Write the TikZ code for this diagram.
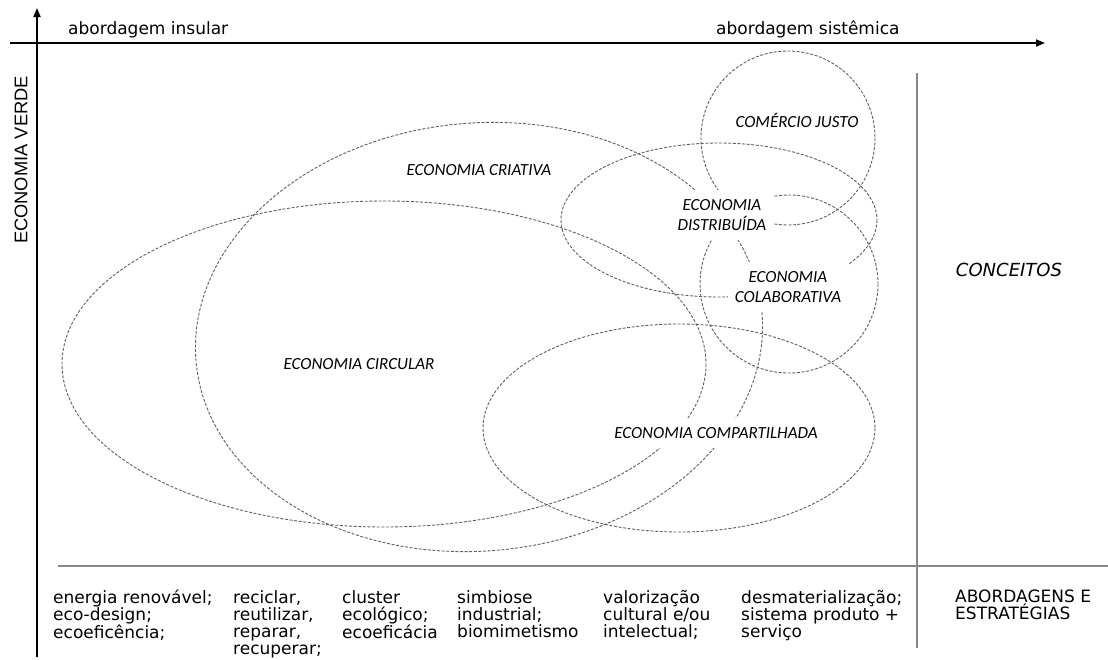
\documentclass[tikz,border=0pt]{standalone}
\usepackage{fontspec}
\setmainfont{DejaVu Sans}
\newfontfamily\carl{Carlito}
\newfontfamily\arialf{Liberation Sans}
\usetikzlibrary{arrows.meta}
\definecolor{venngray}{RGB}{95,95,95}
\definecolor{linegray}{RGB}{135,135,135}
\begin{document}
\begin{tikzpicture}[x=1pt,y=-1pt,
  venn/.style={draw=venngray, line width=0.9pt, dash pattern=on 3pt off 1.6pt},
  axisline/.style={line width=1.8pt, -{Triangle[length=9pt,width=7pt]}},
  thinline/.style={draw=linegray, line width=1.2pt},
  lab/.style={font={\carl\itshape\fontsize{17}{20}\selectfont}, align=center, fill=white, inner xsep=7pt, inner ysep=9pt},
  strat/.style={font={\fontsize{17}{17}\selectfont}, align=left, anchor=north west, inner sep=0pt},
  toplab/.style={font={\fontsize{17}{20}\selectfont}, anchor=base west, inner sep=0pt}]
\useasboundingbox (0,0) rectangle (1108,659);
% axes
\coordinate (yb) at (37,657);
\coordinate (yt) at (37,8);
\coordinate (xl) at (10,43);
\coordinate (xr) at (1045,43);
\draw[axisline] (yb) -- (yt);
\draw[axisline] (xl) -- (xr);
% separator lines
\coordinate (hl) at (58,566);
\coordinate (hr) at (1108,566);
\coordinate (vt) at (917,73);
\coordinate (vb) at (917,648);
\draw[thinline] (hl) -- (hr);
\draw[thinline] (vt) -- (vb);
% ellipses
\draw[venn] (384,364) ellipse [x radius=322, y radius=163];
\draw[venn, rotate around={5:(479,337)}] (479,337) ellipse [x radius=284, y radius=214];
\draw[venn] (719,220) ellipse [x radius=158, y radius=77];
\draw[venn] (788,138) circle [radius=87];
\draw[venn] (789,284) circle [radius=89];
\draw[venn] (679,428) ellipse [x radius=196, y radius=104];
% concept labels
\node[lab] (cj) at (797,120) {COMÉRCIO JUSTO};
\node[lab] (ed) at (722,215) {ECONOMIA\\DISTRIBUÍDA};
\node[lab] (ecol) at (788,287) {ECONOMIA\\COLABORATIVA};
\node[lab] (ecr) at (479,170) {ECONOMIA CRIATIVA};
\node[lab] (eci) at (359,364) {ECONOMIA CIRCULAR};
\node[lab] (ecomp) at (716,433) {ECONOMIA COMPARTILHADA};
\node[font={\itshape\fontsize{18}{20}\selectfont}] (conc) at (1009,270) {CONCEITOS};
% axis labels
\node[toplab] (ins) at (68,34) {abordagem insular};
\node[toplab] (sis) at (716,34) {abordagem sistêmica};
\node[font={\arialf\fontsize{18.3}{20}\selectfont}, rotate=90] (ev) at (21,160) {ECONOMIA VERDE};
% strategies
\node[strat] (s1) at (53,590) {energia renovável;\\eco-design;\\ecoeficência;};
\node[strat] (s2) at (233,590) {reciclar,\\reutilizar,\\reparar,\\recuperar;};
\node[strat] (s3) at (342,590) {cluster\\ecológico;\\ecoeficácia};
\node[strat] (s4) at (457,590) {simbiose\\industrial;\\biomimetismo};
\node[strat] (s5) at (603,590) {valorização\\cultural e/ou\\intelectual;};
\node[strat] (s6) at (741,590) {desmaterialização;\\sistema produto +\\serviço};
\node[strat] (s7) at (955,590) {ABORDAGENS E\\ESTRATÉGIAS};
\end{tikzpicture}
\end{document}
